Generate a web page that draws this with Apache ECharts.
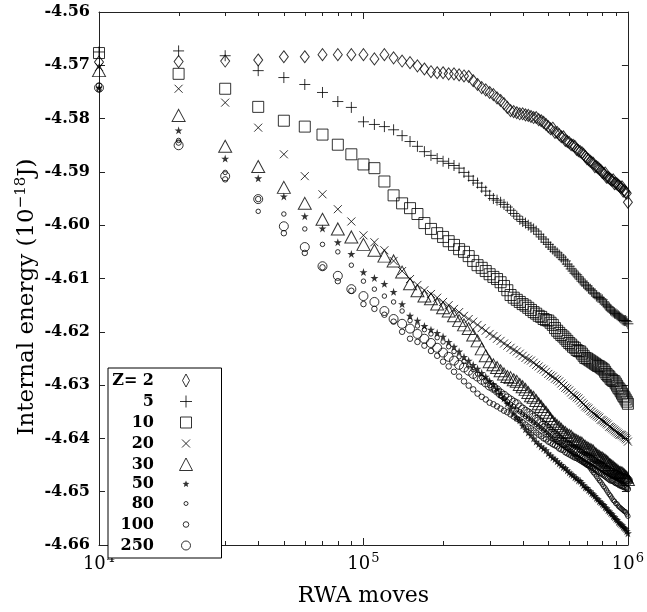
<!DOCTYPE html>
<html>
<head>
<meta charset="utf-8">
<script src="https://cdn.jsdelivr.net/npm/echarts@6/dist/echarts.min.js"></script>
<style>
  html, body { margin: 0; padding: 0; background: #fff; }
  #chart { width: 647px; height: 612px; }
</style>
</head>
<body>
<div id="chart"></div>
<script>
// RWA moves, one sample every 10^4 moves
var moves = [10000, 20000, 30000, 40000, 50000, 60000, 70000, 80000, 90000, 100000,
  110000, 120000, 130000, 140000, 150000, 160000, 170000, 180000, 190000, 200000,
  210000, 220000, 230000, 240000, 250000, 260000, 270000, 280000, 290000, 300000,
  310000, 320000, 330000, 340000, 350000, 360000, 370000, 380000, 390000, 400000,
  410000, 420000, 430000, 440000, 450000, 460000, 470000, 480000, 490000, 500000,
  510000, 520000, 530000, 540000, 550000, 560000, 570000, 580000, 590000, 600000,
  610000, 620000, 630000, 640000, 650000, 660000, 670000, 680000, 690000, 700000,
  710000, 720000, 730000, 740000, 750000, 760000, 770000, 780000, 790000, 800000,
  810000, 820000, 830000, 840000, 850000, 860000, 870000, 880000, 890000, 900000,
  910000, 920000, 930000, 940000, 950000, 960000, 970000, 980000, 990000, 1000000];

// kleine Striche auf der log-Achse
var minorTicks = [20000, 30000, 40000, 50000, 60000, 70000, 80000, 90000,
  200000, 300000, 400000, 500000, 600000, 700000, 800000, 900000];

var yMin = -4.66, yMax = -4.56, yStep = 0.01;

// internal energy (10^-18 J) per Z
var z2 = [-4.5694, -4.5693, -4.5692, -4.5690, -4.5684, -4.5684, -4.5680, -4.5680, -4.5680, -4.5680,
  -4.5688, -4.5680, -4.5686, -4.5692, -4.5695, -4.5701, -4.5707, -4.5712, -4.5714, -4.5714,
  -4.5716, -4.5716, -4.5718, -4.5720, -4.5721, -4.5729, -4.5736, -4.5742, -4.5746, -4.5751,
  -4.5755, -4.5761, -4.5766, -4.5772, -4.5779, -4.5785, -4.5787, -4.5789, -4.5791, -4.5791,
  -4.5793, -4.5794, -4.5796, -4.5798, -4.5798, -4.5802, -4.5804, -4.5807, -4.5811, -4.5815,
  -4.5819, -4.5818, -4.5826, -4.5826, -4.5830, -4.5834, -4.5834, -4.5841, -4.5843, -4.5845,
  -4.5849, -4.5850, -4.5852, -4.5858, -4.5860, -4.5862, -4.5864, -4.5867, -4.5871, -4.5875,
  -4.5877, -4.5880, -4.5882, -4.5884, -4.5890, -4.5890, -4.5892, -4.5895, -4.5897, -4.5901,
  -4.5903, -4.5902, -4.5910, -4.5910, -4.5912, -4.5914, -4.5916, -4.5915, -4.5922, -4.5921,
  -4.5923, -4.5925, -4.5927, -4.5929, -4.5928, -4.5936, -4.5935, -4.5938, -4.5940, -4.5957];

var z5 = [-4.5675, -4.5673, -4.5682, -4.5710, -4.5723, -4.5736, -4.5751, -4.5768, -4.5779, -4.5806,
  -4.5811, -4.5815, -4.5821, -4.5832, -4.5843, -4.5852, -4.5862, -4.5869, -4.5875, -4.5880,
  -4.5884, -4.5888, -4.5893, -4.5901, -4.5908, -4.5916, -4.5921, -4.5929, -4.5936, -4.5944,
  -4.5950, -4.5953, -4.5957, -4.5961, -4.5966, -4.5972, -4.5978, -4.5983, -4.5989, -4.5993,
  -4.5996, -4.6000, -4.6004, -4.6007, -4.6011, -4.6017, -4.6022, -4.6026, -4.6032, -4.6036,
  -4.6041, -4.6045, -4.6049, -4.6052, -4.6056, -4.6060, -4.6064, -4.6067, -4.6073, -4.6077,
  -4.6082, -4.6086, -4.6090, -4.6093, -4.6097, -4.6101, -4.6105, -4.6108, -4.6112, -4.6114,
  -4.6118, -4.6120, -4.6123, -4.6127, -4.6129, -4.6133, -4.6135, -4.6136, -4.6138, -4.6140,
  -4.6144, -4.6148, -4.6150, -4.6153, -4.6155, -4.6159, -4.6161, -4.6163, -4.6165, -4.6166,
  -4.6168, -4.6170, -4.6172, -4.6174, -4.6176, -4.6178, -4.6179, -4.6179, -4.6181, -4.6185];

var z10 = [-4.5677, -4.5716, -4.5744, -4.5778, -4.5804, -4.5815, -4.5830, -4.5849, -4.5867, -4.5886,
  -4.5893, -4.5918, -4.5944, -4.5959, -4.5968, -4.5979, -4.5996, -4.6007, -4.6015, -4.6022,
  -4.6030, -4.6037, -4.6045, -4.6050, -4.6058, -4.6067, -4.6075, -4.6080, -4.6086, -4.6092,
  -4.6097, -4.6101, -4.6107, -4.6114, -4.6122, -4.6131, -4.6136, -4.6140, -4.6144, -4.6148,
  -4.6151, -4.6155, -4.6159, -4.6163, -4.6166, -4.6170, -4.6172, -4.6176, -4.6178, -4.6179,
  -4.6183, -4.6187, -4.6193, -4.6198, -4.6202, -4.6206, -4.6209, -4.6213, -4.6217, -4.6221,
  -4.6224, -4.6228, -4.6230, -4.6234, -4.6236, -4.6237, -4.6241, -4.6245, -4.6249, -4.6250,
  -4.6252, -4.6254, -4.6256, -4.6258, -4.6260, -4.6262, -4.6264, -4.6265, -4.6267, -4.6269,
  -4.6271, -4.6275, -4.6279, -4.6282, -4.6284, -4.6288, -4.6290, -4.6292, -4.6293, -4.6297,
  -4.6301, -4.6305, -4.6308, -4.6312, -4.6316, -4.6320, -4.6323, -4.6327, -4.6331, -4.6335];

var z20 = [-4.5703, -4.5744, -4.5770, -4.5817, -4.5867, -4.5908, -4.5942, -4.5970, -4.5993, -4.6019,
  -4.6032, -4.6047, -4.6067, -4.6086, -4.6101, -4.6112, -4.6122, -4.6129, -4.6136, -4.6144,
  -4.6150, -4.6157, -4.6163, -4.6170, -4.6176, -4.6181, -4.6187, -4.6193, -4.6198, -4.6204,
  -4.6208, -4.6213, -4.6217, -4.6222, -4.6226, -4.6230, -4.6234, -4.6237, -4.6241, -4.6245,
  -4.6249, -4.6252, -4.6254, -4.6258, -4.6262, -4.6265, -4.6269, -4.6271, -4.6275, -4.6279,
  -4.6282, -4.6284, -4.6288, -4.6290, -4.6293, -4.6297, -4.6301, -4.6305, -4.6307, -4.6310,
  -4.6314, -4.6318, -4.6320, -4.6323, -4.6325, -4.6329, -4.6333, -4.6336, -4.6340, -4.6342,
  -4.6344, -4.6348, -4.6350, -4.6353, -4.6355, -4.6357, -4.6359, -4.6361, -4.6365, -4.6366,
  -4.6368, -4.6370, -4.6372, -4.6374, -4.6378, -4.6379, -4.6381, -4.6383, -4.6385, -4.6387,
  -4.6389, -4.6391, -4.6393, -4.6393, -4.6394, -4.6396, -4.6398, -4.6400, -4.6402, -4.6406];

var z30 = [-4.5710, -4.5794, -4.5852, -4.5890, -4.5929, -4.5959, -4.5989, -4.6007, -4.6022, -4.6036,
  -4.6047, -4.6058, -4.6067, -4.6088, -4.6110, -4.6123, -4.6133, -4.6138, -4.6148, -4.6155,
  -4.6161, -4.6170, -4.6179, -4.6187, -4.6194, -4.6206, -4.6217, -4.6232, -4.6245, -4.6256,
  -4.6262, -4.6267, -4.6273, -4.6279, -4.6284, -4.6286, -4.6290, -4.6293, -4.6299, -4.6303,
  -4.6308, -4.6314, -4.6320, -4.6323, -4.6329, -4.6335, -4.6340, -4.6346, -4.6351, -4.6357,
  -4.6363, -4.6368, -4.6372, -4.6376, -4.6379, -4.6383, -4.6387, -4.6389, -4.6393, -4.6394,
  -4.6396, -4.6400, -4.6402, -4.6404, -4.6406, -4.6408, -4.6409, -4.6413, -4.6415, -4.6417,
  -4.6419, -4.6421, -4.6422, -4.6424, -4.6428, -4.6430, -4.6432, -4.6434, -4.6436, -4.6437,
  -4.6439, -4.6441, -4.6443, -4.6445, -4.6449, -4.6450, -4.6452, -4.6454, -4.6456, -4.6458,
  -4.6460, -4.6462, -4.6464, -4.6464, -4.6465, -4.6467, -4.6469, -4.6471, -4.6473, -4.6477];

var z50 = [-4.5742, -4.5822, -4.5875, -4.5912, -4.5946, -4.5983, -4.6006, -4.6032, -4.6054, -4.6088,
  -4.6099, -4.6110, -4.6125, -4.6148, -4.6170, -4.6179, -4.6189, -4.6196, -4.6202, -4.6209,
  -4.6219, -4.6228, -4.6237, -4.6247, -4.6254, -4.6262, -4.6269, -4.6277, -4.6284, -4.6292,
  -4.6299, -4.6307, -4.6316, -4.6325, -4.6335, -4.6344, -4.6353, -4.6361, -4.6366, -4.6376,
  -4.6383, -4.6389, -4.6394, -4.6400, -4.6406, -4.6411, -4.6415, -4.6419, -4.6422, -4.6428,
  -4.6432, -4.6436, -4.6439, -4.6443, -4.6447, -4.6450, -4.6454, -4.6456, -4.6460, -4.6464,
  -4.6467, -4.6469, -4.6473, -4.6475, -4.6479, -4.6480, -4.6484, -4.6488, -4.6492, -4.6493,
  -4.6497, -4.6499, -4.6503, -4.6505, -4.6508, -4.6512, -4.6514, -4.6518, -4.6520, -4.6523,
  -4.6525, -4.6529, -4.6531, -4.6535, -4.6537, -4.6540, -4.6542, -4.6546, -4.6548, -4.6551,
  -4.6553, -4.6557, -4.6559, -4.6561, -4.6563, -4.6566, -4.6568, -4.6570, -4.6574, -4.6578];

var z80 = [-4.5746, -4.5841, -4.5901, -4.5974, -4.5979, -4.6007, -4.6036, -4.6050, -4.6075, -4.6105,
  -4.6120, -4.6133, -4.6144, -4.6161, -4.6179, -4.6189, -4.6196, -4.6204, -4.6211, -4.6219,
  -4.6228, -4.6237, -4.6247, -4.6256, -4.6264, -4.6271, -4.6279, -4.6286, -4.6293, -4.6301,
  -4.6307, -4.6312, -4.6320, -4.6325, -4.6331, -4.6336, -4.6340, -4.6346, -4.6350, -4.6355,
  -4.6359, -4.6363, -4.6366, -4.6370, -4.6374, -4.6378, -4.6381, -4.6385, -4.6389, -4.6393,
  -4.6396, -4.6400, -4.6402, -4.6406, -4.6408, -4.6411, -4.6413, -4.6417, -4.6419, -4.6422,
  -4.6424, -4.6428, -4.6430, -4.6434, -4.6436, -4.6439, -4.6441, -4.6445, -4.6447, -4.6450,
  -4.6452, -4.6456, -4.6460, -4.6464, -4.6467, -4.6471, -4.6475, -4.6479, -4.6482, -4.6486,
  -4.6490, -4.6493, -4.6497, -4.6501, -4.6505, -4.6508, -4.6512, -4.6516, -4.6518, -4.6522,
  -4.6523, -4.6527, -4.6529, -4.6531, -4.6533, -4.6535, -4.6537, -4.6538, -4.6542, -4.6546];

var z100 = [-4.5738, -4.5845, -4.5914, -4.5951, -4.6015, -4.6052, -4.6079, -4.6105, -4.6123, -4.6148,
  -4.6157, -4.6168, -4.6181, -4.6200, -4.6213, -4.6219, -4.6226, -4.6236, -4.6245, -4.6256,
  -4.6265, -4.6275, -4.6284, -4.6293, -4.6301, -4.6308, -4.6316, -4.6322, -4.6327, -4.6333,
  -4.6336, -4.6340, -4.6344, -4.6348, -4.6351, -4.6355, -4.6359, -4.6363, -4.6366, -4.6370,
  -4.6374, -4.6378, -4.6381, -4.6385, -4.6389, -4.6393, -4.6396, -4.6400, -4.6402, -4.6406,
  -4.6408, -4.6411, -4.6413, -4.6415, -4.6419, -4.6421, -4.6422, -4.6426, -4.6428, -4.6430,
  -4.6432, -4.6434, -4.6436, -4.6437, -4.6439, -4.6441, -4.6443, -4.6445, -4.6447, -4.6449,
  -4.6450, -4.6452, -4.6454, -4.6456, -4.6458, -4.6460, -4.6462, -4.6464, -4.6465, -4.6467,
  -4.6469, -4.6471, -4.6473, -4.6475, -4.6477, -4.6479, -4.6479, -4.6480, -4.6482, -4.6484,
  -4.6484, -4.6486, -4.6488, -4.6488, -4.6490, -4.6490, -4.6492, -4.6492, -4.6493, -4.6495];

var z250 = [-4.5742, -4.5850, -4.5908, -4.5951, -4.6002, -4.6041, -4.6077, -4.6095, -4.6120, -4.6133,
  -4.6144, -4.6161, -4.6176, -4.6185, -4.6194, -4.6204, -4.6213, -4.6221, -4.6230, -4.6239,
  -4.6247, -4.6254, -4.6262, -4.6267, -4.6273, -4.6279, -4.6284, -4.6290, -4.6295, -4.6301,
  -4.6305, -4.6310, -4.6316, -4.6320, -4.6325, -4.6329, -4.6333, -4.6336, -4.6342, -4.6346,
  -4.6350, -4.6353, -4.6357, -4.6361, -4.6365, -4.6368, -4.6372, -4.6376, -4.6379, -4.6383,
  -4.6387, -4.6391, -4.6394, -4.6398, -4.6402, -4.6404, -4.6408, -4.6409, -4.6413, -4.6415,
  -4.6417, -4.6421, -4.6422, -4.6424, -4.6426, -4.6428, -4.6430, -4.6432, -4.6434, -4.6436,
  -4.6437, -4.6439, -4.6441, -4.6443, -4.6445, -4.6447, -4.6449, -4.6450, -4.6452, -4.6454,
  -4.6456, -4.6458, -4.6460, -4.6460, -4.6462, -4.6464, -4.6465, -4.6465, -4.6467, -4.6469,
  -4.6469, -4.6471, -4.6471, -4.6473, -4.6473, -4.6475, -4.6475, -4.6477, -4.6477, -4.6479];

var serif = 'DejaVu Serif';
var ink = '#000';
var frame = '#222';

// symbole: plot / legende (legende mit leerem Rand auf 14x14, damit die Groessen stimmen)
var plusPath = 'path://M0,5L10,5M5,0L5,10';
var crossPath = 'path://M0,0L10,10M10,0L0,10';
var starPath = 'path://M5,0L6.18,3.62L10,3.62L6.91,5.86L8.09,9.48L5,7.24L1.91,9.48L3.09,5.86L0,3.62L3.82,3.62Z';

var groups = [
  { name: 'Z= 2', vals: z2, symbol: 'diamond', size: [9, 12],
    icon: 'path://M0,0M14,14M7,0.5L10.5,7L7,13.5L3.5,7Z' },
  { name: '5', vals: z5, symbol: plusPath, size: 11,
    icon: 'path://M0,0M14,14M1,7L13,7M7,1L7,13' },
  { name: '10', vals: z10, symbol: 'rect', size: 11,
    icon: 'path://M0,0M14,14M1.5,1.5L12.5,1.5L12.5,12.5L1.5,12.5Z' },
  { name: '20', vals: z20, symbol: crossPath, size: 8,
    icon: 'path://M0,0M14,14M3,3L11,11M11,3L3,11' },
  { name: '30', vals: z30, symbol: 'triangle', size: [13, 12],
    icon: 'path://M0,0M14,14M7,0.5L13.5,13L0.5,13Z' },
  { name: '50', vals: z50, symbol: starPath, size: 8, filled: true,
    icon: 'path://M0,0M14,14M7,3.5L7.94,5.8L10.4,6L8.5,7.6L9.1,10L7,8.7L4.9,10L5.5,7.6L3.6,6L6.06,5.8Z' },
  { name: '80', vals: z80, symbol: 'circle', size: 4.5,
    icon: 'path://M0,0M14,14M5,7A2,2 0 1 0 9,7A2,2 0 1 0 5,7Z' },
  { name: '100', vals: z100, symbol: 'circle', size: 5.5,
    icon: 'path://M0,0M14,14M4.2,7A2.8,2.8 0 1 0 9.8,7A2.8,2.8 0 1 0 4.2,7Z' },
  { name: '250', vals: z250, symbol: 'circle', size: 9,
    icon: 'path://M0,0M14,14M2.5,7A4.5,4.5 0 1 0 11.5,7A4.5,4.5 0 1 0 2.5,7Z' }
];

var series = groups.map(function (g) {
  return {
    name: g.name,
    type: 'scatter',
    xAxisIndex: 0,
    yAxisIndex: 0,
    symbol: g.symbol,
    symbolSize: g.size,
    silent: true,
    itemStyle: g.filled ? { color: ink, borderWidth: 0 }
                        : { color: 'none', borderColor: ink, borderWidth: 1 },
    data: moves.map(function (m, i) { return [m, g.vals[i]]; })
  };
});

var legendData = groups.map(function (g) {
  var item = { name: g.name, icon: g.icon };
  if (g.filled) item.itemStyle = { color: ink, borderWidth: 0 };
  return item;
});

var tickStyle = { color: frame, width: 1 };

var myChart = echarts.init(document.getElementById('chart'));
myChart.setOption({
  animation: false,
  backgroundColor: '#fff',
  grid: { left: 99, right: 12, top: 12, bottom: 65 },
  legend: {
    orient: 'vertical',
    left: 108,
    top: 368,
    align: 'right',
    itemWidth: 14,
    itemHeight: 14,
    itemGap: 2,
    padding: [3, 26, 3, 4],
    borderColor: ink,
    borderWidth: 1,
    backgroundColor: '#fff',
    selectedMode: false,
    data: legendData,
    itemStyle: { color: 'none', borderColor: ink, borderWidth: 1 },
    formatter: function (name) { return '{n|' + name + '}'; },
    textStyle: {
      color: ink,
      fontFamily: serif,
      fontSize: 16,
      fontWeight: 'bold',
      rich: {
        n: { fontFamily: serif, fontSize: 16, fontWeight: 'bold', color: ink,
             width: 42, align: 'right', lineHeight: 17, padding: [0, 20, 0, 0] }
      }
    }
  },
  xAxis: [{
    type: 'log',
    logBase: 10,
    min: 1e4,
    max: 1e6,
    position: 'bottom',
    axisLine: { lineStyle: tickStyle },
    axisTick: { inside: true, length: 7, lineStyle: tickStyle },
    splitLine: { show: false },
    axisLabel: {
      margin: 7,
      formatter: function (v) {
        return '{b|10}{s|' + Math.round(Math.log10(v)) + '}';
      },
      rich: {
        b: { fontFamily: serif, fontSize: 18, color: ink },
        s: { fontFamily: serif, fontSize: 13, color: ink, padding: [0, 0, 11, 1] }
      }
    },
    name: 'RWA moves',
    nameLocation: 'middle',
    nameGap: 40,
    nameTextStyle: { fontFamily: serif, fontSize: 22, color: ink }
  }, {
    type: 'log',
    logBase: 10,
    min: 1e4,
    max: 1e6,
    position: 'top',
    axisLine: { lineStyle: tickStyle },
    axisTick: { inside: true, length: 7, lineStyle: tickStyle },
    axisLabel: { show: false },
    splitLine: { show: false }
  }],
  yAxis: [{
    type: 'value',
    min: yMin,
    max: yMax,
    interval: yStep,
    axisLine: { show: true, lineStyle: tickStyle },
    axisTick: { inside: true, length: 6, lineStyle: tickStyle },
    splitLine: { show: false },
    axisLabel: {
      margin: 9,
      color: ink,
      fontFamily: serif,
      fontSize: 16,
      fontWeight: 'bold',
      formatter: function (v) { return v.toFixed(2); }
    }
  }, {
    type: 'value',
    position: 'right',
    min: yMin,
    max: yMax,
    interval: yStep,
    axisLine: { show: true, lineStyle: tickStyle },
    axisTick: { inside: true, length: 6, lineStyle: tickStyle },
    axisLabel: { show: false },
    splitLine: { show: false }
  }],
  series: series
});

// Nebenstriche (2..9 x 10^n) unten und oben, plus y-Titel
var yBottom = myChart.convertToPixel({ yAxisIndex: 0 }, yMin);
var yTop = myChart.convertToPixel({ yAxisIndex: 0 }, yMax);
var extras = [];
minorTicks.forEach(function (v) {
  var px = Math.round(myChart.convertToPixel({ xAxisIndex: 0 }, v)) + 0.5;
  extras.push({ type: 'line', silent: true,
    shape: { x1: px, y1: yBottom, x2: px, y2: yBottom - 4 },
    style: { stroke: frame, lineWidth: 1 } });
  extras.push({ type: 'line', silent: true,
    shape: { x1: px, y1: yTop, x2: px, y2: yTop + 4 },
    style: { stroke: frame, lineWidth: 1 } });
});
extras.push({
  type: 'text',
  x: 27,
  y: 297,
  rotation: Math.PI / 2,
  silent: true,
  style: {
    text: '{a|Internal energy (10}{s|\u221218}{a|J)}',
    align: 'center',
    verticalAlign: 'middle',
    rich: {
      a: { fontFamily: serif, fontSize: 23, fill: ink },
      s: { fontFamily: serif, fontSize: 15, fill: ink, padding: [0, 0, 11, 0] }
    }
  }
});
myChart.setOption({ graphic: extras });
</script>
</body>
</html>
